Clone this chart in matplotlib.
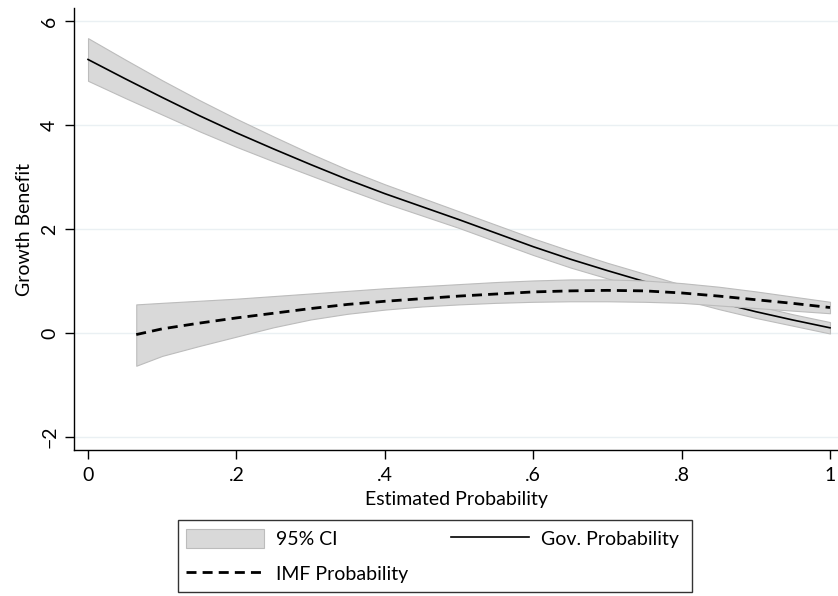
import matplotlib
matplotlib.use("Agg")
import matplotlib.pyplot as plt
from matplotlib.patches import Patch
from matplotlib.lines import Line2D

plt.rcParams['font.family'] = ['Lato', 'DejaVu Sans']

# Gov. Probability curve and 95% CI
gov_x = [0.00, 0.05, 0.10, 0.15, 0.20, 0.25, 0.30, 0.35, 0.40, 0.45, 0.50,
         0.55, 0.60, 0.65, 0.70, 0.75, 0.80, 0.85, 0.90, 0.95, 1.00]
gov_y = [5.26, 4.89, 4.53, 4.18, 3.85, 3.54, 3.24, 2.95, 2.68, 2.43, 2.18,
         1.92, 1.66, 1.42, 1.20, 0.99, 0.79, 0.59, 0.41, 0.25, 0.10]
gov_lo = [4.85, 4.52, 4.20, 3.88, 3.58, 3.30, 3.03, 2.76, 2.50, 2.26, 2.02,
          1.76, 1.50, 1.26, 1.05, 0.84, 0.65, 0.46, 0.29, 0.14, -0.01]
gov_hi = [5.67, 5.26, 4.86, 4.48, 4.12, 3.78, 3.45, 3.14, 2.86, 2.60, 2.34,
          2.08, 1.82, 1.58, 1.35, 1.14, 0.93, 0.72, 0.53, 0.36, 0.21]

# IMF Probability curve and 95% CI
imf_x = [0.065, 0.10, 0.15, 0.20, 0.25, 0.30, 0.35, 0.40, 0.45, 0.50,
         0.55, 0.60, 0.65, 0.70, 0.75, 0.80, 0.85, 0.90, 0.95, 1.00]
imf_y = [-0.03, 0.08, 0.19, 0.29, 0.38, 0.47, 0.55, 0.61, 0.66, 0.71,
         0.75, 0.79, 0.81, 0.82, 0.81, 0.77, 0.71, 0.64, 0.57, 0.49]
imf_lo = [-0.63, -0.44, -0.25, -0.07, 0.11, 0.26, 0.37, 0.45, 0.51, 0.55,
          0.58, 0.60, 0.61, 0.61, 0.60, 0.58, 0.53, 0.48, 0.43, 0.38]
imf_hi = [0.55, 0.58, 0.62, 0.66, 0.71, 0.76, 0.81, 0.86, 0.90, 0.94,
          0.98, 1.01, 1.03, 1.03, 1.01, 0.96, 0.89, 0.80, 0.70, 0.60]

x_ticks = [0, 0.2, 0.4, 0.6, 0.8, 1.0]
x_ticklabels = ['0', '.2', '.4', '.6', '.8', '1']
y_ticks = [-2, 0, 2, 4, 6]
y_ticklabels = ['\u22122', '0', '2', '4', '6']

fill_c = '#d9d9d9'
edge_c = '#bcbcbc'
fs = 14

fig = plt.figure(figsize=(8.38, 5.96), dpi=100)
ax = fig.add_axes([74/838, 1 - 450/596, 1 - 74/838, 442/596])

for y in y_ticks:
    ax.axhline(y, color='#eaf0f3', lw=1.0, zorder=0)

ax.fill_between(gov_x, gov_lo, gov_hi, facecolor=fill_c, edgecolor=edge_c, lw=0.8, zorder=1)
ax.plot(gov_x, gov_y, color='black', lw=1.2, zorder=2)
ax.fill_between(imf_x, imf_lo, imf_hi, facecolor=fill_c, edgecolor=edge_c, lw=0.8, zorder=3)
ax.plot(imf_x, imf_y, color='black', lw=2.0, dashes=(3.6, 2.2), zorder=4)

ax.set_xlim(-0.0189, 1.0108)
ax.set_ylim(-2.25, 6.25)
ax.set_xticks(x_ticks)
ax.set_xticklabels(x_ticklabels)
ax.set_yticks(y_ticks)
ax.set_yticklabels(y_ticklabels, rotation=90, va='center')
ax.tick_params(direction='out', length=6.5, width=1, labelsize=fs, colors='black')
ax.tick_params(axis='x', pad=6)
ax.tick_params(axis='y', pad=5)
ax.spines['top'].set_visible(False)
ax.spines['right'].set_visible(False)
ax.spines['left'].set_linewidth(1.0)
ax.spines['bottom'].set_linewidth(1.0)
ax.set_xlabel('Estimated Probability', fontsize=fs, labelpad=5)
ax.set_ylabel('Growth Benefit', fontsize=fs, labelpad=6)

handles = [Patch(facecolor=fill_c, edgecolor=edge_c, lw=0.8),
           Line2D([], [], color='black', lw=2.0, dashes=(3.6, 2.2)),
           Line2D([], [], color='black', lw=1.2)]
labels = ['95% CI', 'IMF Probability', 'Gov. Probability ']
leg = fig.legend(handles, labels, ncol=2, loc='lower center',
                 bbox_to_anchor=(435/838, -0.009), fontsize=fs, frameon=True,
                 fancybox=False, edgecolor='black', handlelength=4.0,
                 handleheight=1.15, columnspacing=2.2, handletextpad=0.62,
                 borderpad=0.45, labelspacing=0.8)
leg.get_frame().set_linewidth(1.0)

fig.savefig('out.png', dpi=100)
